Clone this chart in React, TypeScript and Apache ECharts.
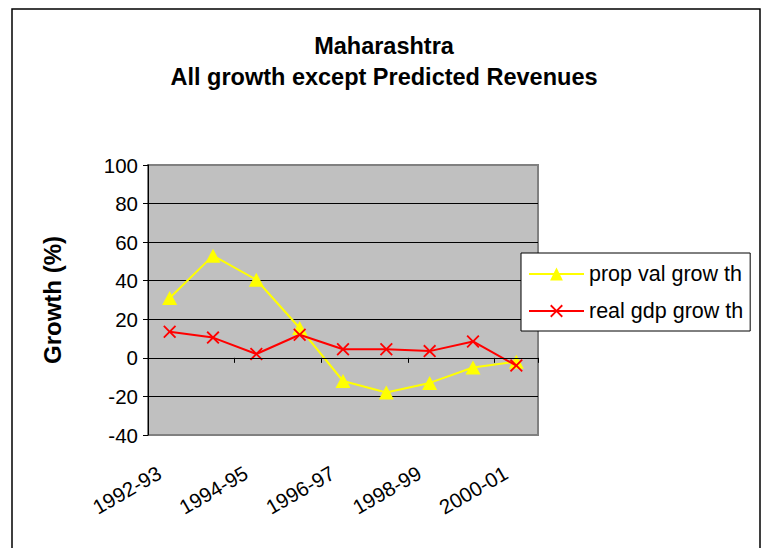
import React, { useEffect, useRef } from "react";
import * as echarts from "echarts";

const categories = ["1992-93", "1993-94", "1994-95", "1995-96", "1996-97", "1997-98", "1998-99", "1999-00", "2000-01"];
const propValGrowth = [31, 53, 40.5, 15.5, -12, -18, -13, -5, -2];
const realGdpGrowth = [13.5, 10.5, 2, 12, 4.5, 4.5, 3.5, 8.5, -4];
const seriesNames = ["prop val grow th", "real gdp grow th"];
const titleLines = ["Maharashtra", "All growth except Predicted Revenues"];
const yAxisName = "Growth (%)";

const X_SYMBOL = "path://M0,1L1,0L5,4L9,0L10,1L6,5L10,9L9,10L5,6L1,10L0,9L4,5Z";
const FONT = "Liberation Sans, Arial, sans-serif";

export default function App() {
  const ref = useRef<HTMLDivElement>(null);
  useEffect(() => {
    if (!ref.current) return;
    const chart = echarts.init(ref.current, null, { renderer: "svg" });
    chart.setOption({
      animation: false,
      backgroundColor: "#ffffff",
      textStyle: { fontFamily: FONT },
      graphic: [
        {
          type: "rect",
          shape: { x: 12, y: 9, width: 748, height: 600 },
          style: { fill: "none", stroke: "#000", lineWidth: 1.5 },
          z: 0,
        },
      ],
      title: {
        text: titleLines.join("\n"),
        left: "center",
        top: 25,
        textStyle: { fontFamily: FONT, fontSize: 23.5, fontWeight: "bold", color: "#000", lineHeight: 31 },
      },
      legend: {
        orient: "vertical",
        left: 521,
        top: 253,
        width: 227,
        padding: [10, 7, 9, 7],
        itemGap: 15,
        itemWidth: 55,
        itemHeight: 16,
        backgroundColor: "#fff",
        borderColor: "#000",
        borderWidth: 1,
        textStyle: { fontFamily: FONT, fontSize: 21.5, color: "#000" },
        data: seriesNames,
      },
      grid: {
        left: 148,
        top: 165,
        right: 230,
        bottom: 113,
        show: true,
        backgroundColor: "#c0c0c0",
        borderColor: "#808080",
        borderWidth: 2,
        containLabel: false,
      },
      xAxis: [
        {
          type: "category",
          data: categories,
          boundaryGap: true,
          axisLine: { onZero: true, lineStyle: { color: "#000", width: 1 } },
          axisTick: { show: true, inside: false, length: 5, lineStyle: { color: "#000" } },
          axisLabel: { show: false },
          splitLine: { show: false },
          z: 5,
        },
        {
          type: "category",
          data: categories,
          position: "bottom",
          boundaryGap: true,
          axisLine: { show: false, onZero: false },
          axisTick: { show: false },
          axisLabel: {
            interval: 1,
            rotate: 30,
            margin: 30,
            padding: [0, 12, 0, 0],
            fontFamily: FONT,
            fontSize: 20.5,
            color: "#000",
          },
        },
      ],
      yAxis: {
        type: "value",
        min: -40,
        max: 100,
        interval: 20,
        name: yAxisName,
        nameLocation: "middle",
        nameGap: 84,
        nameTextStyle: { fontFamily: FONT, fontSize: 24, fontWeight: "bold", color: "#000" },
        axisLine: { show: true, lineStyle: { color: "#000", width: 1 } },
        axisTick: { show: true, inside: false, length: 5, lineStyle: { color: "#000" } },
        axisLabel: { margin: 10, fontFamily: FONT, fontSize: 20.5, color: "#000" },
        splitLine: {
          show: true,
          lineStyle: {
            color: ["transparent", "#000", "#000", "#000", "#000", "#000", "#000", "transparent"],
            width: 1,
          },
        },
      },
      series: [
        {
          name: seriesNames[0],
          type: "line",
          data: propValGrowth,
          xAxisIndex: 0,
          symbol: "triangle",
          symbolSize: [15, 14],
          lineStyle: { color: "#ffff00", width: 2 },
          itemStyle: { color: "#ffff00" },
          z: 3,
        },
        {
          name: seriesNames[1],
          type: "line",
          data: realGdpGrowth,
          xAxisIndex: 0,
          symbol: X_SYMBOL,
          symbolSize: 13,
          lineStyle: { color: "#ff0000", width: 2 },
          itemStyle: { color: "#ff0000" },
          z: 4,
        },
      ],
    });
    return () => chart.dispose();
  }, []);
  return (
    <div
      ref={ref}
      style={{ position: "fixed", left: 0, top: 0, width: 768, height: 548 }}
    />
  );
}
